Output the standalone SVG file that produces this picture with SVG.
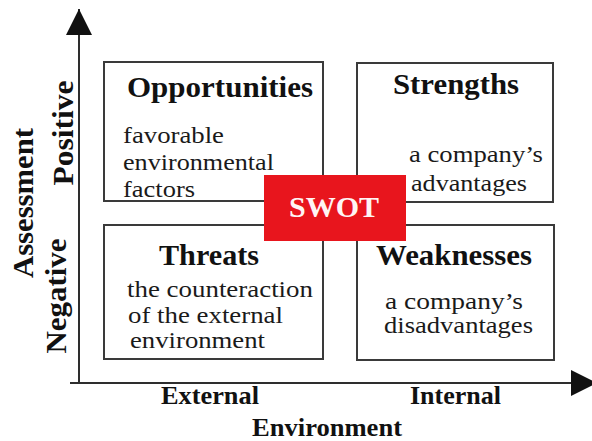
<svg xmlns="http://www.w3.org/2000/svg" width="592" height="441" viewBox="0 0 592 441">
  <style>
    .box { fill: #ffffff; stroke: #3a3a3a; stroke-width: 2; }
    .axis { stroke: #2e2e2e; stroke-width: 2; fill: none; }
    .title { font-family: "Liberation Serif", "Times New Roman", Times, serif; font-weight: bold; font-size: 30px; fill: #111111; }
    .body { font-family: "Liberation Serif", "Times New Roman", Times, serif; font-size: 23px; fill: #1a1a1a; }
    .axislabel { font-family: "Liberation Serif", "Times New Roman", Times, serif; font-weight: bold; font-size: 25px; fill: #111111; }
    .swot { font-family: "Liberation Serif", "Times New Roman", Times, serif; font-weight: bold; font-size: 30px; fill: #fff4f4; }
  </style>
  <defs>
    <marker id="arrowhead" viewBox="0 0 26 26" refX="26" refY="13" markerWidth="26" markerHeight="26" markerUnits="userSpaceOnUse" orient="auto">
      <path d="M0,0 L26,13 L0,26 Z" fill="#111111"/>
    </marker>
  </defs>
  <rect x="0" y="0" width="592" height="441" fill="#ffffff"/>

  <!-- axes -->
  <g id="connectors">
    <line class="axis" x1="79" y1="383" x2="79" y2="9" marker-end="url(#arrowhead)"/>
    <line class="axis" x1="70" y1="383" x2="597" y2="383" marker-end="url(#arrowhead)"/>
  </g>

  <!-- axis labels -->
  <g id="axis-labels">
    <text class="title" transform="translate(33,203) rotate(-90)" text-anchor="middle" textLength="150" lengthAdjust="spacingAndGlyphs">Assessment</text>
    <text class="title" transform="translate(73,133) rotate(-90)" text-anchor="middle" textLength="105" lengthAdjust="spacingAndGlyphs">Positive</text>
    <text class="title" transform="translate(66,296) rotate(-90)" text-anchor="middle" textLength="115" lengthAdjust="spacingAndGlyphs">Negative</text>
    <text class="axislabel" x="161" y="404" textLength="98" lengthAdjust="spacingAndGlyphs">External</text>
    <text class="axislabel" x="410" y="404" textLength="91" lengthAdjust="spacingAndGlyphs">Internal</text>
    <text class="axislabel" x="252" y="436" textLength="150" lengthAdjust="spacingAndGlyphs">Environment</text>
  </g>

  <!-- quadrant: Opportunities -->
  <g id="opportunities">
    <rect class="box" x="104" y="62" width="219" height="139"/>
    <text class="title" x="127" y="97" textLength="186" lengthAdjust="spacingAndGlyphs">Opportunities</text>
    <text class="body" x="123" y="143" textLength="101" lengthAdjust="spacingAndGlyphs">favorable</text>
    <text class="body" x="123" y="170" textLength="151" lengthAdjust="spacingAndGlyphs">environmental</text>
    <text class="body" x="123" y="197" textLength="72" lengthAdjust="spacingAndGlyphs">factors</text>
  </g>

  <!-- quadrant: Strengths -->
  <g id="strengths">
    <rect class="box" x="357" y="63" width="196" height="139"/>
    <text class="title" x="393" y="94" textLength="126" lengthAdjust="spacingAndGlyphs">Strengths</text>
    <text class="body" x="409" y="162" textLength="134" lengthAdjust="spacingAndGlyphs">a company’s</text>
    <text class="body" x="411" y="191" textLength="116" lengthAdjust="spacingAndGlyphs">advantages</text>
  </g>

  <!-- quadrant: Threats -->
  <g id="threats">
    <rect class="box" x="104" y="225" width="219" height="134"/>
    <text class="title" x="159" y="265" textLength="100" lengthAdjust="spacingAndGlyphs">Threats</text>
    <text class="body" x="127" y="297" textLength="186" lengthAdjust="spacingAndGlyphs">the counteraction</text>
    <text class="body" x="128" y="323" textLength="155" lengthAdjust="spacingAndGlyphs">of the external</text>
    <text class="body" x="130" y="348" textLength="135" lengthAdjust="spacingAndGlyphs">environment</text>
  </g>

  <!-- quadrant: Weaknesses -->
  <g id="weaknesses">
    <rect class="box" x="357" y="225" width="197" height="135"/>
    <text class="title" x="376" y="265" textLength="156" lengthAdjust="spacingAndGlyphs">Weaknesses</text>
    <text class="body" x="385" y="309" textLength="138" lengthAdjust="spacingAndGlyphs">a company’s</text>
    <text class="body" x="384" y="333" textLength="149" lengthAdjust="spacingAndGlyphs">disadvantages</text>
  </g>

  <!-- centre badge -->
  <g id="swot">
    <rect x="264" y="175" width="142" height="66" fill="#e8151d"/>
    <text class="swot" x="289" y="217" textLength="90" lengthAdjust="spacingAndGlyphs">SWOT</text>
  </g>
</svg>
